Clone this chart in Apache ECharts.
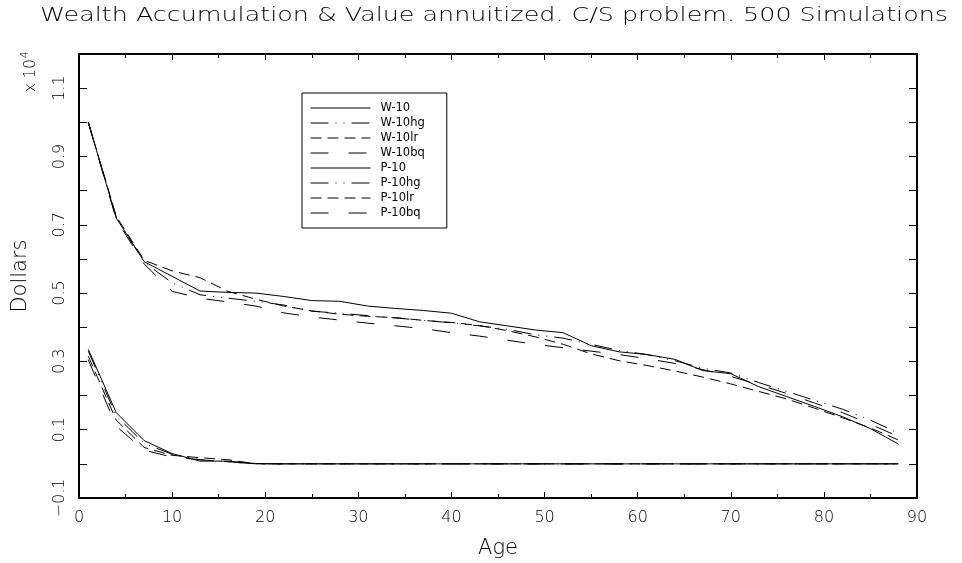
<!DOCTYPE html>
<html><head><meta charset="utf-8">
<script src="https://cdn.jsdelivr.net/npm/echarts@6/dist/echarts.min.js"></script>
<style>html,body{margin:0;padding:0;background:#fff}#c{width:962px;height:563px}</style>
</head><body><div id="c"></div>
<script>
// ---- data (values in units of 10^4 dollars) ----
const ages   = [1,4,7,10,13,16,19,22,25,28,31,34,37,40,43,46,49,52,55,58,61,64,67,70,73,76,79,82,85,88];
const W10    = [1.000,0.720,0.592,0.549,0.506,0.502,0.500,0.490,0.478,0.476,0.462,0.455,0.449,0.441,0.416,0.404,0.392,0.384,0.346,0.328,0.320,0.306,0.273,0.264,0.226,0.197,0.168,0.138,0.103,0.058];
const W10hg  = [1.000,0.722,0.590,0.530,0.495,0.485,0.476,0.465,0.447,0.441,0.434,0.427,0.420,0.413,0.404,0.394,0.378,0.368,0.350,0.332,0.320,0.302,0.280,0.266,0.238,0.212,0.186,0.160,0.128,0.090];
const W10lr  = [1.000,0.725,0.596,0.565,0.545,0.505,0.482,0.462,0.448,0.438,0.432,0.428,0.420,0.414,0.405,0.390,0.372,0.350,0.322,0.302,0.288,0.272,0.254,0.234,0.212,0.190,0.163,0.135,0.105,0.070];
const W10bq  = [1.000,0.715,0.585,0.505,0.485,0.474,0.462,0.442,0.430,0.421,0.412,0.404,0.396,0.384,0.374,0.362,0.350,0.340,0.330,0.320,0.308,0.294,0.276,0.256,0.232,0.206,0.178,0.150,0.116,0.080];
const P10    = [0.335,0.150,0.068,0.030,0.008,0.008,0.001,0,0,0,0,0,0,0,0,0,0,0,0,0,0,0,0,0,0,0,0,0,0,0];
const P10hg  = [0.330,0.140,0.060,0.028,0.012,0.006,0,0,0,0,0,0,0,0,0,0,0,0,0,0,0,0,0,0,0,0,0,0,0,0];
const P10lr  = [0.315,0.128,0.048,0.025,0.018,0.012,0,0,0,0,0,0,0,0,0,0,0,0,0,0,0,0,0,0,0,0,0,0,0,0];
const P10bq  = [0.305,0.110,0.040,0.020,0.012,0.006,0,0,0,0,0,0,0,0,0,0,0,0,0,0,0,0,0,0,0,0,0,0,0,0];
const seriesNames = ['W-10','W-10hg','W-10lr','W-10bq','P-10','P-10hg','P-10lr','P-10bq'];
const seriesValues = [W10, W10hg, W10lr, W10bq, P10, P10hg, P10lr, P10bq];
const titleText = 'Wealth Accumulation & Value annuitized. C/S problem. 500 Simulations';
const xName = 'Age';
const yName = 'Dollars';

// ---- styles ----
const FONT = 'DejaVu Sans';
const INK = '#000';
const dashStyles = ['solid', [18,7,1,7,1,7], [11,6], [18,20]];

// stretch the title horizontally to the reference's wide stroke-font width
const meas = document.createElement('canvas').getContext('2d');
meas.font = '200 20px "DejaVu Sans"';
const titleScale = 908 / meas.measureText(titleText).width;

const chart = echarts.init(document.getElementById('c'));
const series = seriesNames.map((name, k) => ({
  name, type: 'line', symbol: 'none', silent: true, animation: false,
  data: ages.map((a, i) => [a, seriesValues[k][i]]),
  lineStyle: { color: '#000', width: 1, type: dashStyles[k % 4] },
  itemStyle: { color: '#000' }
}));

const baseX = {
  type: 'value', min: 0, max: 90, interval: 10,
  axisLine: { show: true, onZero: false, lineStyle: { color: '#000', width: 2 } },
  axisTick: { show: true, inside: true, length: 6, lineStyle: { color: '#000', width: 1 } },
  minorTick: { show: true, splitNumber: 2, length: 4, lineStyle: { color: '#000', width: 1 } },
  splitLine: { show: false }
};
const baseY = {
  type: 'value', min: -0.1, max: 1.2, interval: 0.1,
  axisLine: { show: true, onZero: false, lineStyle: { color: '#000', width: 2 } },
  axisTick: { show: true, inside: true, length: 8, lineStyle: { color: '#000', width: 1 } },
  splitLine: { show: false }
};

chart.setOption({
  backgroundColor: '#fff',
  animation: false,
  grid: { left: 79, right: 45, top: 54, bottom: 65, containLabel: false, outerBoundsMode: 'none',
          show: true, borderColor: '#000', borderWidth: 2 },
  legend: {
    orient: 'vertical', left: 302, top: 93,
    padding: [9, 22, 9, 8], itemGap: 3, itemWidth: 60, itemHeight: 10,
    borderColor: '#000', borderWidth: 1, backgroundColor: '#fff',
    itemStyle: { opacity: 0, borderWidth: 0 },
    lineStyle: { width: 1 },
    textStyle: { fontFamily: FONT, fontSize: 11.5, lineHeight: 11, color: INK, padding: [0, 0, 0, 5] },
    data: seriesNames
  },
  xAxis: [
    Object.assign({}, baseX, {
      position: 'bottom',
      name: xName, nameLocation: 'middle', nameGap: 40,
      nameTextStyle: { fontFamily: FONT, fontWeight: 200, fontSize: 21, color: INK },
      axisLabel: { show: true, margin: 12, fontFamily: FONT, fontWeight: 200, fontSize: 16, color: INK }
    }),
    Object.assign({}, baseX, { position: 'top', axisLabel: { show: false } })
  ],
  yAxis: [
    Object.assign({}, baseY, {
      position: 'left',
      name: yName, nameLocation: 'middle', nameGap: 48,
      nameTextStyle: { fontFamily: FONT, fontWeight: 200, fontSize: 21, color: INK },
      axisLabel: {
        show: true, rotate: 90, margin: 11, fontFamily: FONT, fontWeight: 200, fontSize: 16, color: INK,
        formatter: v => { const n = Math.round(v * 10); return ((n % 2) + 2) % 2 === 1 ? (n / 10).toFixed(1).replace('-', '\u2212') : ''; }
      }
    }),
    Object.assign({}, baseY, { position: 'right', axisLabel: { show: false } })
  ],
  graphic: [{
    type: 'text', x: 40, y: 6, scaleX: titleScale, silent: true,
    style: { text: titleText, fill: INK, font: '200 20px "DejaVu Sans"' }
  }, {
    type: 'text', x: 20, y: 92, rotation: Math.PI / 2, silent: true,
    style: {
      text: '{a|x 10}{b|4}', fill: INK,
      rich: {
        a: { fontFamily: FONT, fontWeight: 200, fontSize: 15, fill: INK, verticalAlign: 'bottom' },
        b: { fontFamily: FONT, fontWeight: 200, fontSize: 11, fill: INK, verticalAlign: 'top', padding: [0, 0, 8, 1] }
      }
    }
  }],
  series
});
</script></body></html>
